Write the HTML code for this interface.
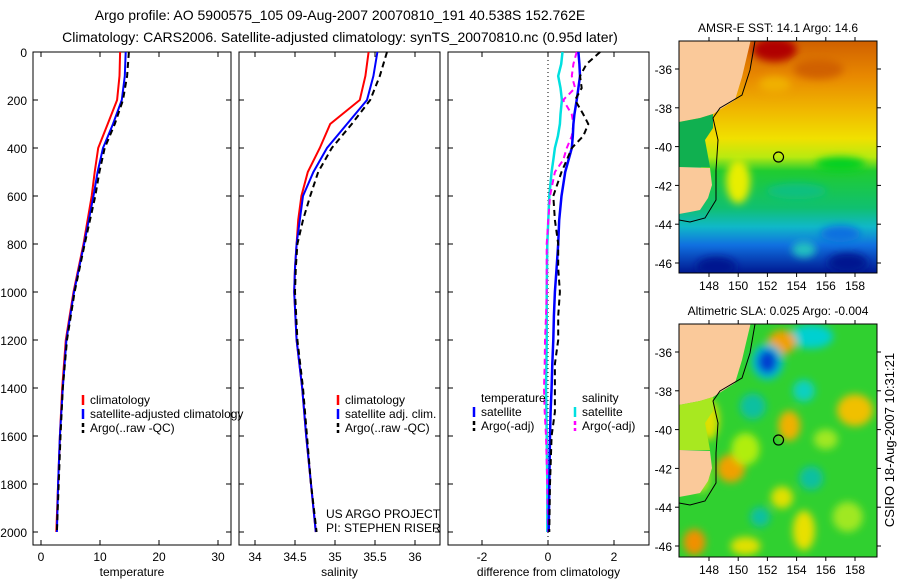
<!DOCTYPE html>
<html><head><meta charset="utf-8"><style>
html,body{margin:0;padding:0;background:#fff;}
svg{display:block;font-family:"Liberation Sans",sans-serif;}
</style></head><body>
<svg id="fig" width="900" height="580" viewBox="0 0 900 580" xmlns="http://www.w3.org/2000/svg">
<defs>
<filter id="blur" x="-50%" y="-50%" width="200%" height="200%"><feGaussianBlur stdDeviation="4"/></filter>
<clipPath id="clipM1"><rect x="679" y="41" width="198" height="232"/></clipPath>
<clipPath id="clipM2"><rect x="679" y="324" width="198" height="233"/></clipPath>
<linearGradient id="sstGrad" x1="0" y1="0" x2="0" y2="1">
<stop offset="0" stop-color="#d06000"/><stop offset="0.15" stop-color="#e88800"/>
<stop offset="0.3" stop-color="#f0b800"/><stop offset="0.42" stop-color="#f0e000"/>
<stop offset="0.5" stop-color="#b8ea10"/><stop offset="0.56" stop-color="#20cc30"/>
<stop offset="0.72" stop-color="#10c070"/><stop offset="0.8" stop-color="#10b8c8"/>
<stop offset="0.88" stop-color="#1070e0"/><stop offset="1" stop-color="#001890"/></linearGradient>
</defs>
<g font-size="14" text-anchor="middle" fill="#000">
<text x="340" y="20">Argo profile: AO 5900575_105 09-Aug-2007 20070810_191 40.538S 152.762E</text>
<text x="340" y="42">Climatology: CARS2006. Satellite-adjusted climatology: synTS_20070810.nc (0.95d later)</text>
</g>
<g id="panels"></g>
<g id="maps"></g>
<text font-size="13" text-anchor="middle" transform="translate(894,440) rotate(-90)">CSIRO 18-Aug-2007 10:31:21</text>
</svg>
<script>
// ---- data ----
const depthT = [0,100,200,300,400,500,600,800,1000,1200,1400,1600,1800,2000];
const tempClim = [13.4,13.3,12.9,11.3,9.7,9.1,8.6,7.2,5.5,4.2,3.6,3.2,2.9,2.6];
const tempSat = [14.35,14.2,13.7,12.2,10.5,9.6,8.9,7.3,5.6,4.3,3.7,3.2,2.9,2.7];
const tempArgo = [14.9,14.6,13.9,12.5,10.8,9.9,9.2,7.4,5.7,4.4,3.7,3.3,3.0,2.7];
const depthS = [0,100,200,300,400,500,600,700,800,900,1000,1200,1400,1600,1800,2000];
const salClim = [35.42,35.38,35.31,34.94,34.81,34.66,34.58,34.54,34.52,34.5,34.49,34.52,34.59,34.64,34.7,34.76];
const salSat = [35.53,35.48,35.4,35.15,34.9,34.73,34.6,34.56,34.52,34.5,34.49,34.52,34.59,34.64,34.7,34.76];
const salArgo = [35.65,35.56,35.44,35.21,34.96,34.79,34.69,34.6,34.53,34.51,34.5,34.53,34.6,34.65,34.7,34.77];
const depthD = [0,50,100,150,200,260,300,350,400,450,500,600,700,800,900,1000,1100,1200,1300,1400,1500,1600,1800,2000];
const dTempSat = [0.92,0.95,0.97,0.92,0.87,0.8,0.77,0.75,0.72,0.62,0.52,0.41,0.34,0.31,0.26,0.21,0.18,0.16,0.13,0.11,0.08,0.06,0.04,0.02];
const dTempArgo = [1.58,1.17,0.97,1.02,0.82,1.07,1.22,1.07,0.72,0.57,0.41,0.16,0.21,0.31,0.31,0.36,0.31,0.31,0.21,0.21,0.21,0.11,0.06,0.04];
const dSalSat = [0.44,0.4,0.31,0.38,0.42,0.38,0.36,0.3,0.21,0.16,0.11,0.04,0.01,-0.02,-0.03,-0.04,-0.04,-0.04,-0.05,-0.06,-0.05,-0.04,-0.02,-0.02];
const dSalArgo = [0.87,0.77,0.72,0.82,0.46,0.72,0.77,0.72,0.57,0.46,0.21,0.06,0.01,-0.04,-0.04,-0.04,-0.06,-0.09,-0.1,-0.12,-0.1,-0.06,-0.02,0];
const depthTicks = [0,200,400,600,800,1000,1200,1400,1600,1800,2000];
const tempTicks = [0,10,20,30];
const salTicks = [34,34.5,35,35.5,36];
const diffTicks = [-2,0,2];
const lonTicks = [148,150,152,154,156,158];
const latTicks = [36,38,40,42,44,46];
const argoLon = 152.762, argoLat = 40.538;

const NS="http://www.w3.org/2000/svg";
function mk(tag,attrs,parent,txt){const e=document.createElementNS(NS,tag);for(const k in attrs)e.setAttribute(k,attrs[k]);if(txt!==undefined)e.textContent=txt;parent.appendChild(e);return e;}
const yD = d => 52 + d*0.24;
const xT = t => 41 + t*5.9;
const xS = s => 255 + (s-34)*80;
const xDf = v => 548 + v*33;
const root = document.getElementById('panels');

function panel(name,x0,x1,xf,ticks,fmt,label,showY){
  const g = mk('g',{},root);
  
  
  const r = mk('rect',{x:x0,y:52,width:x1-x0,height:493,fill:'none',stroke:'#000','stroke-width':1},g);
  
  
  depthTicks.forEach(d=>{
    const y=yD(d);
    mk('line',{x1:x0,x2:x0+5,y1:y,y2:y,stroke:'#000'},g);
    mk('line',{x1:x1-5,x2:x1,y1:y,y2:y,stroke:'#000'},g);
    if(showY){const t=mk('text',{x:x0-6,y:y+5,'font-size':12,'text-anchor':'end'},g,String(d));
      
      }
  });
  ticks.forEach(v=>{
    const x=xf(v);
    mk('line',{x1:x,x2:x,y1:545,y2:540,stroke:'#000'},g);
    mk('line',{x1:x,x2:x,y1:52,y2:57,stroke:'#000'},g);
    const t=mk('text',{x:x,y:561,'font-size':12,'text-anchor':'middle'},g,fmt(v));
    
    
  });
  const t=mk('text',{x:(x0+x1)/2,y:576,'font-size':12,'text-anchor':'middle'},g,label);
  
  
  return g;
}
function line(g,name,depths,vals,xf,color,dash,w){
  const pts = depths.map((d,i)=>xf(vals[i]).toFixed(1)+','+yD(d).toFixed(1)).join(' ');
  const p = mk('polyline',{points:pts,fill:'none',stroke:color,'stroke-width':w||2,'stroke-dasharray':dash||'none'},g);
  
  
}
function legend(g,name,x,y,color,dash,label){
  const e = mk('g',{},g);
  
  
  mk('line',{x1:x,x2:x,y1:y-9,y2:y+1,stroke:color,'stroke-width':2.5,'stroke-dasharray':dash||'none'},e);
  mk('text',{x:x+7,y:y,'font-size':12},e,label);
}

const g1 = panel('temperature-panel',33,231,xT,tempTicks,String,'temperature',true);
line(g1,'temperature-climatology-line',depthT,tempClim,xT,'#ff0000');
line(g1,'temperature-satellite-line',depthT,tempSat,xT,'#0000ff');
line(g1,'temperature-argo-line',depthT,tempArgo,xT,'#000','6,4');
legend(g1,'legend-climatology',83,404,'#ff0000',null,'climatology');
legend(g1,'legend-satellite-adjusted',83,418,'#0000ff',null,'satellite-adjusted climatology');
legend(g1,'legend-argo',83,432,'#000','4,3','Argo(..raw -QC)');

const g2 = panel('salinity-panel',239,440,xS,salTicks,v=>String(v),'salinity',false);
line(g2,'salinity-climatology-line',depthS,salClim,xS,'#ff0000');
line(g2,'salinity-satellite-line',depthS,salSat,xS,'#0000ff');
line(g2,'salinity-argo-line',depthS,salArgo,xS,'#000','6,4');
legend(g2,'legend-sal-climatology',338,404,'#ff0000',null,'climatology');
legend(g2,'legend-sal-satellite',338,418,'#0000ff',null,'satellite adj. clim.');
legend(g2,'legend-sal-argo',338,432,'#000','4,3','Argo(..raw -QC)');
const cr = mk('text',{x:326,y:518,'font-size':12},g2,'US ARGO PROJECT');


const pi = mk('text',{x:326,y:532,'font-size':12},g2,'PI: STEPHEN RISER');



const g3 = panel('difference-panel',448,649,xDf,diffTicks,String,'difference from climatology',false);
const zl = mk('line',{x1:xDf(0),x2:xDf(0),y1:52,y2:545,stroke:'#000','stroke-dasharray':'1,3'},g3);


line(g3,'diff-salinity-satellite-line',depthD,dSalSat,xDf,'#00e0e0',null,2.5);
line(g3,'diff-salinity-argo-line',depthD,dSalArgo,xDf,'#ff00ff','6,4');
line(g3,'diff-temperature-satellite-line',depthD,dTempSat,xDf,'#0000ff',null,2.5);
line(g3,'diff-temperature-argo-line',depthD,dTempArgo,xDf,'#000','6,4');
const lt = mk('text',{x:481,y:402,'font-size':12},g3,'temperature');


const ls = mk('text',{x:582,y:402,'font-size':12},g3,'salinity');


legend(g3,'legend-diff-temp-sat',474,416,'#0000ff',null,'satellite');
legend(g3,'legend-diff-temp-argo',474,430,'#000','4,3','Argo(-adj)');
legend(g3,'legend-diff-sal-sat',575,416,'#00e0e0',null,'satellite');
legend(g3,'legend-diff-sal-argo',575,430,'#ff00ff','4,3','Argo(-adj)');

// ---- maps ----
const maps = document.getElementById('maps');
const xLon = lon => 709 + (lon-148)*14.6;
function drawMap(name,top,title,isSST){
  const off = top-41;
  const yLat = lat => 69 + off + (lat-36)*19.4;
  const g = mk('g',{},maps);
  
  
  const f = mk('g',{'clip-path':isSST?'url(#clipM1)':'url(#clipM2)'},g);
  if(isSST){
    mk('rect',{x:679,y:top,width:198,height:232,fill:'url(#sstGrad)'},f);
    const b=mk('g',{filter:'url(#blur)'},f);
    mk('ellipse',{cx:xLon(152.5),cy:yLat(35),rx:22,ry:12,fill:'#b00000'},b);
    mk('ellipse',{cx:xLon(155.5),cy:yLat(36),rx:25,ry:10,fill:'#d06000'},b);
    mk('ellipse',{cx:xLon(152.5),cy:yLat(36.8),rx:16,ry:8,fill:'#f0b000'},b);
    mk('ellipse',{cx:xLon(150),cy:yLat(41.8),rx:12,ry:22,fill:'#e8ee00'},b);
    mk('ellipse',{cx:xLon(157),cy:yLat(40.9),rx:25,ry:7,fill:'#00d020'},b);
    mk('ellipse',{cx:xLon(154),cy:yLat(42.3),rx:30,ry:8,fill:'#10c080'},b);
    mk('ellipse',{cx:xLon(148.5),cy:yLat(46.2),rx:20,ry:10,fill:'#001890'},b);
    mk('ellipse',{cx:xLon(157.5),cy:yLat(46),rx:20,ry:10,fill:'#001890'},b);
    mk('ellipse',{cx:xLon(157),cy:yLat(44.5),rx:20,ry:8,fill:'#1070e0'},b);
    mk('ellipse',{cx:xLon(154.5),cy:yLat(45.3),rx:12,ry:8,fill:'#20c0c0'},b);
    mk('rect',{x:679,y:yLat(38.8),width:22,height:70,fill:'#10c060'},f);
  } else {
    mk('rect',{x:679,y:top,width:198,height:233,fill:'#30d030'},f);
    const b=mk('g',{filter:'url(#blur)'},f);
    const blobs=[[155,35.2,22,12,'#00d0d0'],[153,35.5,14,12,'#f0a000'],[152,36.5,16,18,'#00c0d0'],[152,36.5,10,12,'#0040d0'],
      [153.5,39.8,11,15,'#f0b000'],[149.5,42,14,14,'#f0a000'],[158,39,18,16,'#f0c000'],[147,45.8,11,13,'#f09000'],
      [151,38.8,13,13,'#10c0a0'],[154.5,38,11,11,'#10d0c0'],[155,42.5,12,12,'#10c0a0'],[151.5,44.5,10,10,'#10c0a0'],
      [154.5,45.2,11,20,'#e8e000'],[150.5,41,14,16,'#b0ee10'],[157.5,44.5,15,15,'#a0e820'],[156,40.5,12,10,'#a0e820'],
      [148,39.5,10,20,'#e0e000'],[153,43.5,11,11,'#e0e000'],[150.5,46,15,9,'#e0e000'],[147.5,42.5,8,14,'#c0e820']];
    blobs.forEach(bl=>mk('ellipse',{cx:xLon(bl[0]),cy:yLat(bl[1]),rx:bl[2],ry:bl[3],fill:bl[4]},b));
  }
  // land
  const land = mk('g',{},f);
  
  
  mk('polygon',{points:`679,${top-2} 751,${top-2} 746,${off+60} 742,${off+77} 735,${off+100} 713,${off+114} 700,${off+118} 679,${off+122}`,fill:'#fac99a'},land);
  mk('polygon',{points:`679,${off+167} 710,${off+168} 712,${off+185} 708,${off+198} 700,${off+210} 690,${off+212} 679,${off+214}`,fill:'#fac99a'},land);
  mk('polygon',{points:`679,${off+122} 700,${off+118} 713,${off+114} 713,${off+128} 705,${off+140} 710,${off+167} 679,${off+167}`,fill:isSST?'#10b050':'#a8e820'},f);
  mk('polyline',{points:`755,${top} 750,${off+70} 742,${off+95} 720,${off+108} 713,${off+118} 718,${off+140} 716,${off+170} 716,${off+200} 705,${off+218} 690,${off+222} 679,${off+220}`,fill:'none',stroke:'#000','stroke-width':1},f);
  const fr = mk('rect',{x:679,y:top,width:198,height:isSST?232:233,fill:'none',stroke:'#000'},g);
  
  
  const bot = top+(isSST?232:233);
  lonTicks.forEach(l=>{
    const x=xLon(l);
    mk('line',{x1:x,x2:x,y1:top,y2:top-4,stroke:'#000'},g);
    mk('line',{x1:x,x2:x,y1:bot,y2:bot+4,stroke:'#000'},g);
    const t=mk('text',{x:x,y:bot+17,'font-size':12,'text-anchor':'middle'},g,String(l));
    
    
  });
  latTicks.forEach(l=>{
    const y=yLat(l);
    mk('line',{x1:679,x2:675,y1:y,y2:y,stroke:'#000'},g);
    mk('line',{x1:877,x2:881,y1:y,y2:y,stroke:'#000'},g);
    const t=mk('text',{x:672,y:y+5,'font-size':12,'text-anchor':'end'},g,'-'+l);
    
    
  });
  const c = mk('circle',{cx:xLon(argoLon),cy:yLat(argoLat),r:5,fill:'none',stroke:'#000','stroke-width':1.2},g);
  
  
  const tt = mk('text',{x:778,y:top-9,'font-size':12,'text-anchor':'middle'},g,title);
  
  
}
drawMap('sst-map',41,'AMSR-E SST: 14.1 Argo: 14.6',true);
drawMap('sla-map',324,'Altimetric SLA: 0.025 Argo: -0.004',false);
</script>
</body></html>
